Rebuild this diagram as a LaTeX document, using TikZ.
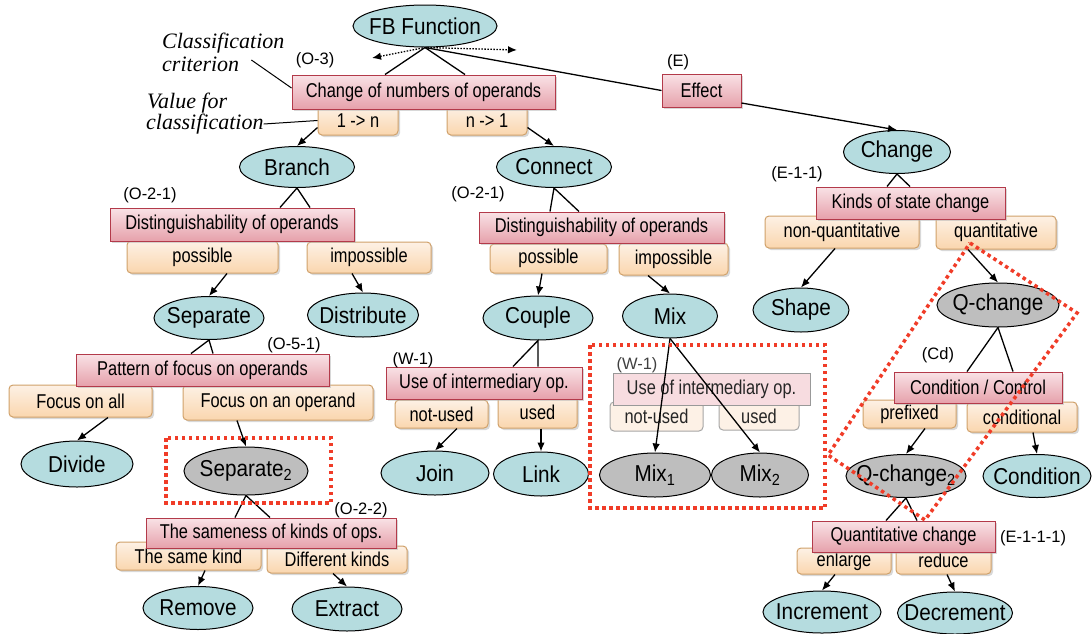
\documentclass[tikz,border=0pt]{standalone}
\usepackage{fontspec}
\setmainfont{Liberation Sans}
\newfontfamily\serifit{Liberation Serif}
\newfontfamily\critfont[FakeStretch=0.82]{Liberation Sans}
\newfontfamily\ellfont[FakeStretch=0.9]{Liberation Sans}
\usepackage{tikz}
\usetikzlibrary{positioning,shapes.geometric,shadows,arrows.meta}
\definecolor{ellfill}{HTML}{B5DCDF}
\definecolor{ellgrey}{HTML}{BEBEBE}
\definecolor{crittop}{HTML}{F9E2E6}
\definecolor{critbot}{HTML}{E6A1AB}
\definecolor{critline}{HTML}{B33A4A}
\definecolor{valtop}{HTML}{FDF1E5}
\definecolor{valbot}{HTML}{FAD6AE}
\definecolor{valline}{HTML}{D0A16A}
\definecolor{fadepink}{HTML}{F7DCE0}
\definecolor{fadepeach}{HTML}{FDF1E6}
\definecolor{reddot}{HTML}{F03C28}
\newcommand{\ellbox}[1]{\makebox[0pt]{#1}}

\begin{document}
\begin{tikzpicture}[x=1pt, y=-1pt, >={Latex[length=9pt,width=7.5pt]},
    ell/.style={ellipse, draw, line width=1pt, fill=ellfill, inner sep=0pt,
        minimum width=110pt, minimum height=43pt, font=\ellfont\fontsize{23}{23}\selectfont},
    grey/.style={ell, fill=ellgrey},
    crit/.style={rectangle, draw=critline, line width=1pt, top color=crittop, bottom color=critbot,
        inner sep=0pt, minimum height=32pt, font=\critfont\fontsize{20}{20}\selectfont,
        drop shadow={shadow xshift=2pt, shadow yshift=-2pt, fill=black!30}},
    fcrit/.style={rectangle, draw=black!40, line width=1pt, fill=fadepink,
        inner sep=0pt, minimum height=32pt, font=\critfont\fontsize{20}{20}\selectfont, text=black!85},
    val/.style={rectangle, rounded corners=4pt, draw=valline, line width=1pt, top color=valtop, bottom color=valbot,
        inner sep=0pt, minimum height=30pt, font=\critfont\fontsize{20}{20}\selectfont,
        drop shadow={shadow xshift=2pt, shadow yshift=-2pt, fill=black!30}},
    fval/.style={rectangle, rounded corners=4pt, draw=black!35, line width=1pt, fill=fadepeach,
        inner sep=0pt, minimum height=30pt, font=\critfont\fontsize{20}{20}\selectfont, text=black!85},
    lab/.style={inner sep=0pt, font=\fontsize{16.5}{16.5}\selectfont},
    note/.style={inner sep=0pt, anchor=west, font=\serifit\itshape\fontsize{22}{22}\selectfont},
    tie/.style={line width=1.3pt},
    redbox/.style={draw=reddot, line width=3.5pt, dash pattern=on 3.5pt off 3.5pt}]
    \useasboundingbox (0,0) rectangle (1092,633);

    \node[val, minimum width=80pt, minimum height=29pt] (v1n) at (358,120.5) {1 -> n};
    \node[val, minimum width=80pt, minimum height=29pt] (vn1) at (487,120.5) {n -> 1};
    \node[val, minimum width=151pt, minimum height=32pt] (poss1) at (202.5,257) {possible};
    \node[val, minimum width=124pt, minimum height=31pt] (imp1) at (369,257.5) {impossible};
    \node[val, minimum width=117pt, minimum height=29pt] (poss2) at (548.5,258.5) {possible};
    \node[val, minimum width=109pt, minimum height=32pt] (imp2) at (673.5,259) {impossible};
    \node[val, minimum width=154pt, minimum height=32pt] (nonq) at (842,232) {non-quantitative};
    \node[val, minimum width=120pt, minimum height=33pt] (quantv) at (996,232.5) {quantitative};
    \node[val, minimum width=143pt, minimum height=32pt] (fall) at (80.5,401) {Focus on all};
    \node[val, minimum width=190pt, minimum height=35pt] (fop) at (278,402.5) {Focus on an operand};
    \node[val, minimum width=93pt, minimum height=28pt] (nused1) at (441.5,414) {not-used};
    \node[val, minimum width=79pt, minimum height=32pt] (used1) at (537.5,412) {used};
    \node[fval, minimum width=93pt, minimum height=29pt] (nused2) at (656.5,416.5) {not-used};
    \node[fval, minimum width=80pt, minimum height=28pt] (used2) at (759,416) {used};
    \node[val, minimum width=93pt, minimum height=28pt] (prefix) at (909.5,414) {prefixed};
    \node[val, minimum width=110pt, minimum height=30pt] (condv) at (1022,417) {conditional};
    \node[val, minimum width=145pt, minimum height=28pt] (samek) at (188.5,556) {The same kind};
    \node[val, minimum width=140pt, minimum height=27pt] (diffk) at (337,559.5) {Different kinds};
    \node[val, minimum width=94pt, minimum height=26pt] (enl) at (844,561) {enlarge};
    \node[val, minimum width=95pt, minimum height=28pt] (redu) at (943.5,560) {reduce};

    \node[crit, minimum width=263pt, minimum height=34pt] (numop) at (423.5,92) {Change of numbers of operands};
    \node[crit, minimum width=79pt, minimum height=33pt] (effect) at (701.5,90.5) {Effect};
    \node[crit, minimum width=244pt, minimum height=33pt] (dist1) at (232,224.5) {Distinguishability of operands};
    \node[crit, minimum width=245pt, minimum height=31pt] (dist2) at (601.5,227.5) {Distinguishability of operands};
    \node[crit, minimum width=189pt] (kinds) at (910.5,203) {Kinds of state change};
    \node[crit, minimum width=253pt] (focus) at (202.5,370) {Pattern of focus on operands};
    \node[crit, minimum width=196pt] (use1) at (484,383) {Use of intermediary op.};
    \node[fcrit, minimum width=197pt] (use2) at (711.5,389) {Use of intermediary op.};
    \node[crit, minimum width=168pt, minimum height=31pt] (ctrl) at (978,387.5) {Condition / Control};
    \node[crit, minimum width=250pt, minimum height=30pt] (same) at (271,533) {The sameness of kinds of ops.};
    \node[crit, minimum width=183pt, minimum height=31pt] (qty) at (903.5,536.5) {Quantitative change};

    \node[ell, minimum width=144pt, minimum height=42pt] (fb) at (425,26) {\ellbox{FB Function}};
    \node[ell, minimum width=115pt, minimum height=41pt] (branch) at (297,167) {\ellbox{Branch}};
    \node[ell, minimum width=115pt, minimum height=41pt] (connect) at (554,167) {\ellbox{Connect}};
    \node[ell, minimum width=107pt] (change) at (897,152) {\ellbox{Change}};
    \node[ell] (sep) at (209,318) {\ellbox{Separate}};
    \node[ell, minimum width=111pt, minimum height=44pt] (distr) at (363,315) {\ellbox{Distribute}};
    \node[ell, minimum height=44pt] (couple) at (538,318) {\ellbox{Couple}};
    \node[ell, minimum width=95pt, minimum height=44pt] (mix) at (670,316) {\ellbox{Mix}};
    \node[ell, minimum width=96pt, minimum height=44pt] (shape) at (801,310) {\ellbox{Shape}};
    \node[grey, minimum width=122pt, minimum height=44pt] (qch) at (998,305) {\ellbox{Q-change}};
    \node[ell, minimum width=112pt, minimum height=46pt] (divide) at (77,464) {\ellbox{Divide}};
    \node[grey, minimum width=124pt, minimum height=48pt] (sep2) at (246,471) {\ellbox{Separate\textsubscript{2}}};
    \node[ell, minimum width=108pt, minimum height=44pt] (join) at (435,473) {\ellbox{Join}};
    \node[ell, minimum width=95pt, minimum height=44pt] (lnk) at (541,474) {\ellbox{Link}};
    \node[grey, minimum width=111pt, minimum height=44pt] (mix1) at (655,475) {\ellbox{Mix\textsubscript{1}}};
    \node[grey, minimum width=97pt, minimum height=44pt] (mix2) at (760,475) {\ellbox{Mix\textsubscript{2}}};
    \node[grey, minimum width=120pt] (qch2) at (906,476) {\ellbox{Q-change\textsubscript{2}}};
    \node[ell, minimum width=108pt] (cond) at (1037,476) {\ellbox{Condition}};
    \node[ell] (remove) at (198,608) {\ellbox{Remove}};
    \node[ell, minimum height=44pt] (extract) at (347,609) {\ellbox{Extract}};
    \node[ell, minimum width=118pt, minimum height=42pt] (incr) at (822,612) {\ellbox{Increment}};
    \node[ell, minimum width=115pt, minimum height=42pt] (decr) at (955,613) {\ellbox{Decrement}};

    \node[lab] (lo3) at (315,60) {(O-3)};
    \node[lab] (le) at (678,62) {(E)};
    \node[lab] (lo21a) at (150,195) {(O-2-1)};
    \node[lab] (lo21b) at (478,194) {(O-2-1)};
    \node[lab] (le11) at (797,174) {(E-1-1)};
    \node[lab] (lo51) at (294,345) {(O-5-1)};
    \node[lab] (lw1a) at (413,360) {(W-1)};
    \node[lab, text=black!75] (lw1b) at (637,365) {(W-1)};
    \node[lab] (lcd) at (938,355) {(Cd)};
    \node[lab] (lo22) at (361,510) {(O-2-2)};
    \node[lab] (le1111) at (1033,538) {(E-1-1-1)};

    \node[note] (critA) at (162,43) {Classification};
    \node[note] (critB) at (162,64) {criterion};
    \node[note] (valA) at (147,103) {Value for};
    \node[note] (valB) at (146,124) {classification};
    \draw[tie, line width=1pt] ([xshift=12pt,yshift=4pt]critB.east) -- ([yshift=4pt]numop.west);
    \draw[tie, line width=1pt] (valB.east) -- (v1n.west);

    \coordinate (dl) at (372,58);
    \coordinate (dr) at (517,50);
    \draw[tie, dash pattern=on 1.5pt off 1.5pt, <->] (dl) -- (fb.south) -- (dr);

    \draw[tie] ([xshift=-38.5pt]numop.north) -- (fb.south) -- ([xshift=41.5pt]numop.north);
    \draw[tie] (fb.south) -- (effect.west);
    \draw[tie] ([xshift=48pt]dist1.north) -- (branch.south) -- ([xshift=78pt]dist1.north);
    \draw[tie] ([xshift=-51.5pt]dist2.north) -- (connect.south) -- ([xshift=-22.5pt]dist2.north);
    \draw[tie] ([xshift=-23.5pt]kinds.north) -- (change.south) -- ([xshift=-0.5pt]kinds.north);
    \draw[tie] ([xshift=-11.5pt]focus.north) -- (sep.south) -- ([xshift=10.5pt]focus.north);
    \draw[tie] ([xshift=29pt]use1.north) -- (couple.south) -- ([xshift=54pt]use1.north);
    \draw[tie] ([xshift=-11pt]ctrl.north) -- (qch.south) -- ([xshift=35pt]ctrl.north);
    \draw[tie] ([xshift=-36pt]same.north) -- (sep2.south) -- ([xshift=-1pt]same.north);
    \draw[tie] ([xshift=-17.5pt]qty.north) -- (qch2.south) -- ([xshift=13.5pt]qty.north);

    \draw[tie, ->] ([yshift=-7pt]v1n.west) -- (branch.north);
    \draw[tie, ->] ([yshift=-7pt]vn1.east) -- (connect.north);
    \draw[tie, ->] ([yshift=-12.5pt]effect.east) -- (change.north);
    \draw[tie, ->] ([xshift=24.5pt]poss1.south) -- (sep.north);
    \draw[tie, ->] ([xshift=-17pt]imp1.south) -- (distr.north);
    \draw[tie, ->] ([xshift=-6.5pt]poss2.south) -- (couple.north);
    \draw[tie, ->] ([xshift=-25.5pt]imp2.south) -- (mix.north);
    \draw[tie, ->] ([xshift=-7pt]nonq.south) -- (shape.north);
    \draw[tie, ->] ([xshift=-28pt]quantv.south) -- (qch.north);
    \draw[tie, ->] ([xshift=27.5pt]fall.south) -- (divide.north);
    \draw[tie, ->] ([xshift=-41pt]fop.south) -- (sep2.north);
    \draw[tie, ->] ([xshift=15.5pt]nused1.south) -- (join.north);
    \draw[tie, ->] ([xshift=3.5pt]used1.south) -- (lnk.north);
    \draw[tie, ->] (mix.south) -- (mix1.north);
    \draw[tie, ->] (mix.south) -- (mix2.north);
    \draw[tie, ->] ([xshift=15.5pt]prefix.south) -- (qch2.north);
    \draw[tie, ->] ([xshift=11pt]condv.south) -- (cond.north);
    \draw[tie, ->] ([xshift=16.5pt]samek.south) -- (remove.north);
    \draw[tie, ->] ([xshift=-4pt]diffk.south) -- (extract.north);
    \draw[tie, ->] ([xshift=-9pt]enl.south) -- (incr.north);
    \draw[tie, ->] ([xshift=3.5pt]redu.south) -- (decr.north);

    \draw[redbox] (166,438) rectangle (331,503);
    \draw[redbox] (590,345) rectangle (825,508);
    \draw[redbox] (970,243) -- (1077,313) -- (925,520) -- (828,455) -- cycle;
\end{tikzpicture}
\end{document}
